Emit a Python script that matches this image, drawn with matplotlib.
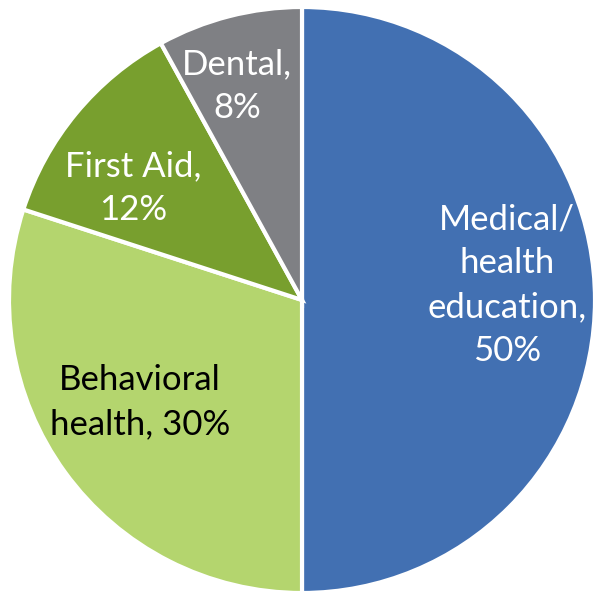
import matplotlib
matplotlib.use('Agg')
import matplotlib.pyplot as plt

# datos del grafico
categorias = ['Medical/\nhealth\neducation,\n50%', 'Behavioral\nhealth, 30%', 'First Aid,\n12%', 'Dental,\n8%']
valores = [50, 30, 12, 8]
colores = ['#4270B2', '#B4D56E', '#789F2E', '#7F8084']
color_texto = ['white', 'black', 'white', 'white']

# posiciones de las etiquetas (pixeles, origen arriba a la izquierda)
pos_etiquetas = [(507, 285), (140, 402), (133, 188), (237, 86)]

W, H = 593, 595
fig = plt.figure(figsize=(W / 100, H / 100), dpi=100)
ax = fig.add_axes([0, 0, 1, 1])
ax.axis('off')

# el eje y invertido hace que el sentido antihorario del pie se vea horario
ax.pie(valores, colors=colores, startangle=-90, counterclock=True,
       center=(302, 300), radius=293,
       wedgeprops=dict(edgecolor='white', linewidth=3))
ax.set_xlim(0, W)
ax.set_ylim(H, 0)

for txt, (x, y), c in zip(categorias, pos_etiquetas, color_texto):
    ax.text(x, y, txt, ha='center', va='center', color=c,
            fontsize=25, family='Lato', linespacing=1.45)

fig.savefig('out.png', dpi=100)
